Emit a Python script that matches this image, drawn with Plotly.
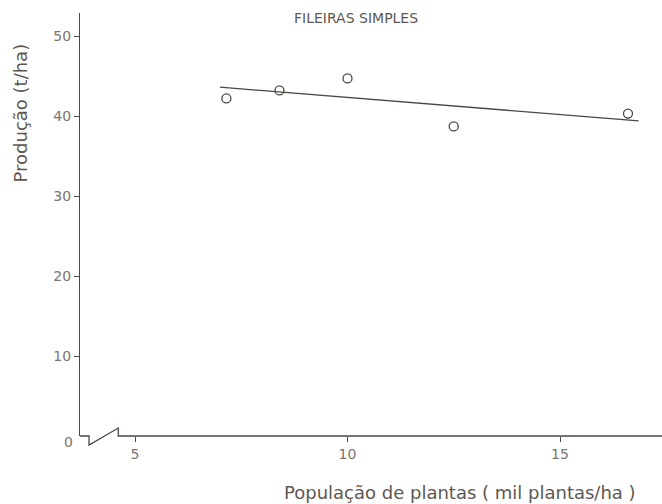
import plotly.graph_objects as go

# Data
populacao = [7.15, 8.4, 10.0, 12.5, 16.6]       # mil plantas/ha
producao = [42.2, 43.2, 44.7, 38.7, 40.3]       # t/ha
fit_x = [7.0, 16.85]
fit_y = [43.6, 39.4]
x_ticks = [5, 10, 15]
y_ticks = [10, 20, 30, 40, 50]

INK = "#4d4741"
TXT = "#5e5852"
TICK = "#7a746e"
FONT = "DejaVu Sans"

x_range = [3.706, 17.4]
y_range = [0, 52.875]

fig = go.Figure()
fig.add_trace(go.Scatter(x=fit_x, y=fit_y, mode="lines",
                         line=dict(color=INK, width=1.3), showlegend=False,
                         hoverinfo="skip"))
fig.add_trace(go.Scatter(x=populacao, y=producao, mode="markers",
                         marker=dict(symbol="circle-open", size=9, color=INK,
                                     line=dict(color=INK, width=1.3)),
                         showlegend=False))

fig.update_layout(
    width=662, height=504,
    margin=dict(l=80, r=0, t=13, b=68),
    paper_bgcolor="white", plot_bgcolor="white",
    font=dict(family=FONT, color=TXT),
    xaxis=dict(range=x_range, showgrid=False, zeroline=False, showline=False,
               tickvals=x_ticks, ticktext=[str(v) for v in x_ticks],
               ticks="outside", ticklen=5, tickcolor=INK, tickwidth=1,
               tickfont=dict(size=14, color=TICK), fixedrange=True),
    yaxis=dict(range=y_range, showgrid=False, zeroline=False, showline=True,
               linecolor=INK, linewidth=1.3,
               tickvals=y_ticks, ticktext=[str(v) for v in y_ticks],
               ticks="outside", ticklen=5, tickcolor=INK, tickwidth=1,
               tickfont=dict(size=14, color=TICK), fixedrange=True),
)

# x axis line with break
x0, xb1, xb2 = x_range[0], 3.918, 4.607
fig.add_shape(type="path", xref="x", yref="paper",
              path=f"M {x0},0 L {xb1},0 L {xb1},-0.0213 L {xb2},0.0189 L {xb2},0 L {x_range[1]},0",
              line=dict(color=INK, width=1.3))

fig.add_annotation(text="0", xref="paper", yref="y", x=0, y=0, xshift=-12, yshift=-6,
                   xanchor="center", yanchor="middle",
                   showarrow=False, font=dict(size=14, color=TICK))
fig.add_annotation(text="FILEIRAS SIMPLES", xref="paper", yref="paper",
                   x=(356 - 80) / 582, y=1, yshift=-5, xanchor="center", yanchor="middle",
                   showarrow=False, font=dict(size=14, color=TXT))
fig.add_annotation(text="População de plantas ( mil plantas/ha )", xref="paper", yref="paper",
                   x=(460 - 80) / 582, y=0, yshift=-56, xanchor="center", yanchor="middle",
                   showarrow=False, font=dict(size=18, color=TXT))
fig.add_annotation(text="Produção (t/ha)", xref="paper", yref="paper",
                   x=0, xshift=-60, y=(423 - (113.5 - 13)) / 423, textangle=-90,
                   xanchor="center", yanchor="middle", showarrow=False,
                   font=dict(size=18, color=TXT))

fig.write_html("out.html", config={"displayModeBar": False},
               post_script="document.body.style.margin='0';document.body.style.overflow='hidden';")
